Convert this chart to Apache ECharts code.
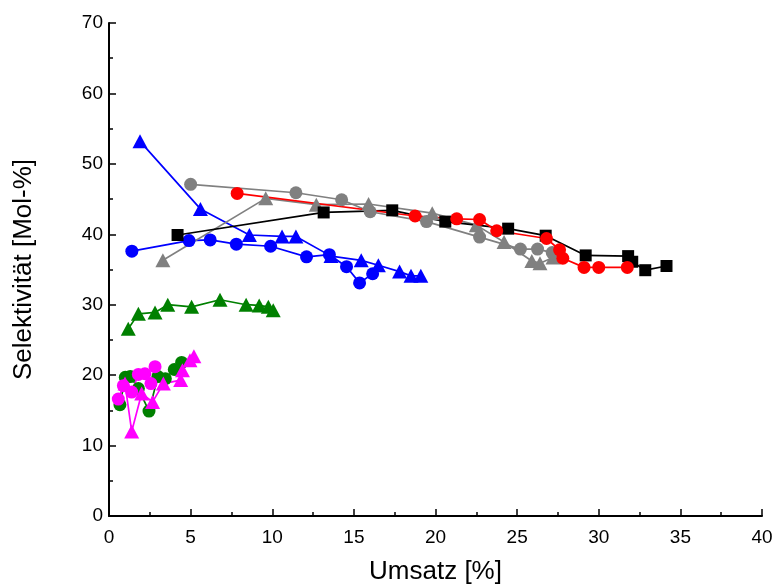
<!DOCTYPE html>
<html>
<head>
<meta charset="utf-8">
<script src="https://cdn.jsdelivr.net/npm/echarts@6/dist/echarts.min.js"></script>
<style>
  html, body { margin: 0; padding: 0; background: #fff; }
  #chart { width: 773px; height: 585px; }
</style>
</head>
<body>
<div id="chart"></div>
<script>
// Conversion (Umsatz, %) and selectivity (Selektivität, mol-%) per measurement series
const blueTriX = [1.9, 5.6, 8.6, 10.6, 11.45, 13.6, 15.45, 16.5, 17.8, 18.5, 19.1];
const blueTriY = [53.2, 43.6, 39.9, 39.7, 39.7, 36.9, 36.3, 35.6, 34.7, 34.1, 34.1];

const blueCirX = [1.4, 4.9, 6.2, 7.8, 9.9, 12.1, 13.5, 14.55, 15.35, 16.15];
const blueCirY = [37.6, 39.1, 39.2, 38.6, 38.3, 36.8, 37.1, 35.4, 33.1, 34.4];

const grayTriX = [3.3, 9.6, 12.7, 15.9, 19.8, 22.5, 24.2, 25.9, 26.4, 27.2];
const grayTriY = [36.3, 45.1, 44.2, 44.3, 43.0, 41.3, 38.9, 36.2, 35.9, 36.7];

const grayCirX = [5.0, 11.45, 14.25, 16.0, 19.45, 22.7, 25.2, 26.25, 27.15];
const grayCirY = [47.1, 45.9, 44.9, 43.2, 41.8, 39.6, 37.9, 37.9, 37.4];

const blackSqX = [4.2, 13.15, 17.35, 20.6, 24.45, 26.75, 29.2, 31.8, 32.05, 32.85, 34.15];
const blackSqY = [39.9, 43.1, 43.4, 41.8, 40.8, 39.8, 37.0, 36.9, 36.1, 34.9, 35.5];

const redCirX = [7.85, 18.75, 21.3, 22.7, 23.75, 26.8, 27.6, 27.8, 29.1, 30.0, 31.75];
const redCirY = [45.8, 42.6, 42.2, 42.1, 40.5, 39.4, 37.8, 36.6, 35.3, 35.3, 35.3];

const greenTriX = [1.18, 1.8, 2.82, 3.6, 5.06, 6.8, 8.4, 9.2, 9.76, 10.06];
const greenTriY = [26.6, 28.7, 28.9, 30.0, 29.7, 30.7, 30.0, 29.9, 29.7, 29.2];

const greenCirX = [0.67, 1.0, 1.3, 1.8, 2.45, 3.0, 3.45, 4.0, 4.45];
const greenCirY = [15.8, 19.7, 19.8, 18.1, 14.9, 19.8, 19.5, 20.8, 21.8];

const magTriX = [0.98, 1.39, 2.0, 2.67, 3.33, 4.39, 4.5, 4.96, 5.2];
const magTriY = [18.8, 12.0, 17.4, 16.2, 18.8, 19.3, 20.7, 22.1, 22.7];

const magCirX = [0.57, 0.88, 1.39, 1.8, 2.2, 2.57, 2.82];
const magCirY = [16.6, 18.5, 17.6, 20.1, 20.2, 18.8, 21.2];

const xTicks = { min: 0, max: 40, step: 5 };
const yTicks = { min: 0, max: 70, step: 10 };

function pairs(xs, ys) {
  return xs.map((x, i) => [x, ys[i]]);
}

function makeSeries(name, xs, ys, color, symbol, size) {
  return {
    name: name,
    type: 'line',
    data: pairs(xs, ys),
    symbol: symbol,
    symbolSize: size,
    showAllSymbol: true,
    animation: false,
    lineStyle: { color: color, width: 1.7 },
    itemStyle: { color: color },
    emphasis: { disabled: true }
  };
}

const triangleSize = [15, 14];
const circleSize = 13;
const squareSize = 12;

const chart = echarts.init(document.getElementById('chart'), null, { renderer: 'canvas' });

const axisFont = 'Liberation Sans, Arial, sans-serif';

chart.setOption({
  backgroundColor: '#ffffff',
  animation: false,
  grid: {
    left: 109, right: 11, top: 23, bottom: 69,
    containLabel: false,
    outerBoundsMode: 'none'
  },
  xAxis: {
    type: 'value',
    min: xTicks.min, max: xTicks.max, interval: xTicks.step,
    name: 'Umsatz [%]',
    nameLocation: 'middle',
    nameGap: 43,
    nameTextStyle: { fontFamily: axisFont, fontSize: 26, color: '#000' },
    axisLine: { onZero: false, lineStyle: { color: '#000', width: 2 } },
    axisTick: { inside: true, length: 7, lineStyle: { color: '#000', width: 1.5 } },
    minorTick: { show: true, splitNumber: 2, length: 4, lineStyle: { color: '#000', width: 1.5 } },
    axisLabel: { fontFamily: axisFont, fontSize: 19, color: '#000', margin: 12 },
    splitLine: { show: false }
  },
  yAxis: {
    type: 'value',
    min: yTicks.min, max: yTicks.max, interval: yTicks.step,
    name: 'Selektivität [Mol-%]',
    nameLocation: 'middle',
    nameGap: 72,
    nameTextStyle: { fontFamily: axisFont, fontSize: 26, color: '#000' },
    axisLine: { show: true, onZero: false, lineStyle: { color: '#000', width: 2 } },
    axisTick: { show: true, inside: true, length: 7, lineStyle: { color: '#000', width: 1.5 } },
    minorTick: { show: true, splitNumber: 2, length: 4, lineStyle: { color: '#000', width: 1.5 } },
    axisLabel: { fontFamily: axisFont, fontSize: 19, color: '#000', margin: 6 },
    splitLine: { show: false }
  },
  series: [
    makeSeries('green circles', greenCirX, greenCirY, '#008000', 'circle', circleSize),
    makeSeries('magenta circles', magCirX, magCirY, '#ff00ff', 'circle', circleSize),
    makeSeries('magenta triangles', magTriX, magTriY, '#ff00ff', 'triangle', triangleSize),
    makeSeries('green triangles', greenTriX, greenTriY, '#008000', 'triangle', triangleSize),
    makeSeries('blue circles', blueCirX, blueCirY, '#0000ff', 'circle', circleSize),
    makeSeries('blue triangles', blueTriX, blueTriY, '#0000ff', 'triangle', triangleSize),
    makeSeries('gray circles', grayCirX, grayCirY, '#808080', 'circle', circleSize),
    makeSeries('gray triangles', grayTriX, grayTriY, '#808080', 'triangle', triangleSize),
    makeSeries('black squares', blackSqX, blackSqY, '#000000', 'rect', squareSize),
    makeSeries('red circles', redCirX, redCirY, '#ff0000', 'circle', circleSize)
  ]
});
</script>
</body>
</html>
